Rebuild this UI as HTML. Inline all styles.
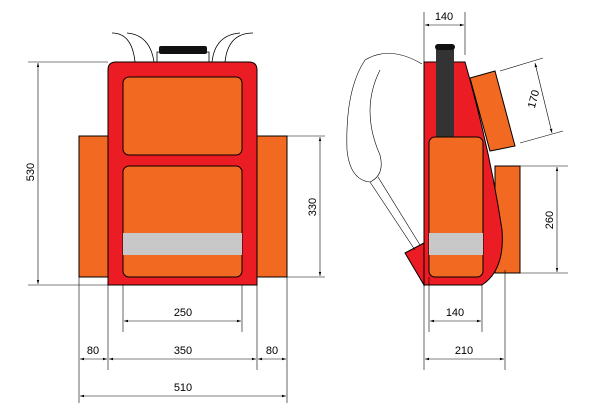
<!DOCTYPE html>
<html><head><style>body{margin:0;background:#fff}svg{display:block}text{font-family:"Liberation Sans",sans-serif;font-size:11px;fill:#000}</style></head><body>
<svg width="608" height="411" viewBox="0 0 608 411">
<defs><marker id="a" viewBox="0 0 10 10" refX="10" refY="5" markerWidth="7" markerHeight="7" orient="auto-start-reverse"><path d="M0,2 L10,5 L0,8z" fill="#000"/></marker></defs>
<g fill="none" stroke="#000" stroke-width="0.8">
<path d="M112,33 Q132,33 135,62 M127,33 Q150,35 154,62 M253,33 Q228,33 225,62 M240,33 Q215,35 212,62"/>
<path d="M157,62 L157,52 L209,52 L209,62"/>
</g>
<rect x="159" y="46" width="48" height="8" rx="2" fill="#111"/>
<rect x="79" y="136" width="30" height="141" fill="#f26a21" stroke="#000"/>
<rect x="257" y="136" width="30" height="141" fill="#f26a21" stroke="#000"/>
<path d="M108,285 L108,70 Q108,62 116,62 L249,62 Q257,62 257,70 L257,285 Z" fill="#ec1c24" stroke="#000"/>
<rect x="123" y="77" width="119" height="78" rx="6" fill="#f26a21" stroke="#000"/>
<rect x="123" y="166" width="119" height="111" rx="6" fill="#f26a21" stroke="#000"/>
<rect x="123" y="233" width="119" height="22" fill="#c8c8c8"/>
<g stroke="#000" stroke-width="0.6" fill="none">
<line x1="28" y1="62" x2="108" y2="62"/><line x1="28" y1="285" x2="108" y2="285"/>
<line x1="38" y1="63" x2="38" y2="284" marker-start="url(#a)" marker-end="url(#a)"/>
<line x1="287" y1="136" x2="325" y2="136"/><line x1="287" y1="277" x2="325" y2="277"/>
<line x1="320" y1="137" x2="320" y2="276" marker-start="url(#a)" marker-end="url(#a)"/>
<line x1="123" y1="285" x2="123" y2="332"/><line x1="242" y1="285" x2="242" y2="332"/>
<line x1="124" y1="321" x2="241" y2="321" marker-start="url(#a)" marker-end="url(#a)"/>
<line x1="79" y1="277" x2="79" y2="403"/><line x1="108" y1="285" x2="108" y2="370"/>
<line x1="257" y1="285" x2="257" y2="370"/><line x1="287" y1="277" x2="287" y2="403"/>
<line x1="80" y1="359" x2="107" y2="359" marker-start="url(#a)" marker-end="url(#a)"/>
<line x1="109" y1="359" x2="256" y2="359" marker-start="url(#a)" marker-end="url(#a)"/>
<line x1="258" y1="359" x2="286" y2="359" marker-start="url(#a)" marker-end="url(#a)"/>
<line x1="80" y1="396" x2="286" y2="396" marker-start="url(#a)" marker-end="url(#a)"/>
</g>
<text x="34" y="172" text-anchor="middle" transform="rotate(-90 34 172)">530</text>
<text x="316" y="207" text-anchor="middle" transform="rotate(-90 316 207)">330</text>
<text x="183" y="316" text-anchor="middle">250</text>
<text x="93" y="354" text-anchor="middle">80</text>
<text x="183" y="354" text-anchor="middle">350</text>
<text x="272" y="354" text-anchor="middle">80</text>
<text x="183" y="391" text-anchor="middle">510</text>
<!-- side view -->
<rect x="495" y="166" width="25" height="107" fill="#f26a21" stroke="#000"/>
<path d="M470,78 L495,71 L515,146 L490,151 Z" fill="#f26a21" stroke="#000"/>
<path d="M424,62 L465,62 Q490,150 502,230 Q505,270 482,285 L424,285 Z" fill="#ec1c24" stroke="#000"/>
<path d="M405,253 L424,243 L424,285 Z" fill="#ec1c24" stroke="#000"/>
<path d="M422,64 Q390,45 365,60 Q345,90 347,150 Q350,180 370,182 Q385,175 380,155 Q360,110 380,70" fill="none" stroke="#000" stroke-width="0.6"/>
<path d="M370,182 L415,250 M378,177 L420,245" stroke="#000" stroke-width="0.6"/>
<rect x="436" y="48" width="18" height="90" fill="#333"/>
<rect x="435" y="44" width="20" height="6" rx="3" fill="#111"/>
<rect x="429" y="137" width="54" height="140" rx="6" fill="#f26a21" stroke="#000"/>
<rect x="429" y="233" width="54" height="22" fill="#c8c8c8"/>
<g stroke="#000" stroke-width="0.6" fill="none">
<line x1="424" y1="12" x2="424" y2="62"/><line x1="465" y1="12" x2="465" y2="55"/>
<line x1="425" y1="25" x2="464" y2="25" marker-start="url(#a)" marker-end="url(#a)"/>
<line x1="500" y1="71" x2="543" y2="58"/><line x1="520" y1="143" x2="563" y2="131"/>
<line x1="535" y1="63" x2="552" y2="133" marker-start="url(#a)" marker-end="url(#a)"/>
<line x1="520" y1="166" x2="568" y2="166"/><line x1="520" y1="273" x2="568" y2="273"/>
<line x1="557" y1="167" x2="557" y2="272" marker-start="url(#a)" marker-end="url(#a)"/>
<line x1="424" y1="285" x2="424" y2="370"/><line x1="429" y1="277" x2="429" y2="332"/>
<line x1="482" y1="285" x2="482" y2="332"/><line x1="505" y1="270" x2="505" y2="370"/>
<line x1="430" y1="321" x2="481" y2="321" marker-start="url(#a)" marker-end="url(#a)"/>
<line x1="425" y1="359" x2="504" y2="359" marker-start="url(#a)" marker-end="url(#a)"/>
</g>
<text x="444" y="20" text-anchor="middle">140</text>
<text x="537" y="100" text-anchor="middle" transform="rotate(-75 537 100)">170</text>
<text x="553" y="220" text-anchor="middle" transform="rotate(-90 553 220)">260</text>
<text x="455" y="316" text-anchor="middle">140</text>
<text x="464" y="354" text-anchor="middle">210</text>
</svg>
</body></html>
